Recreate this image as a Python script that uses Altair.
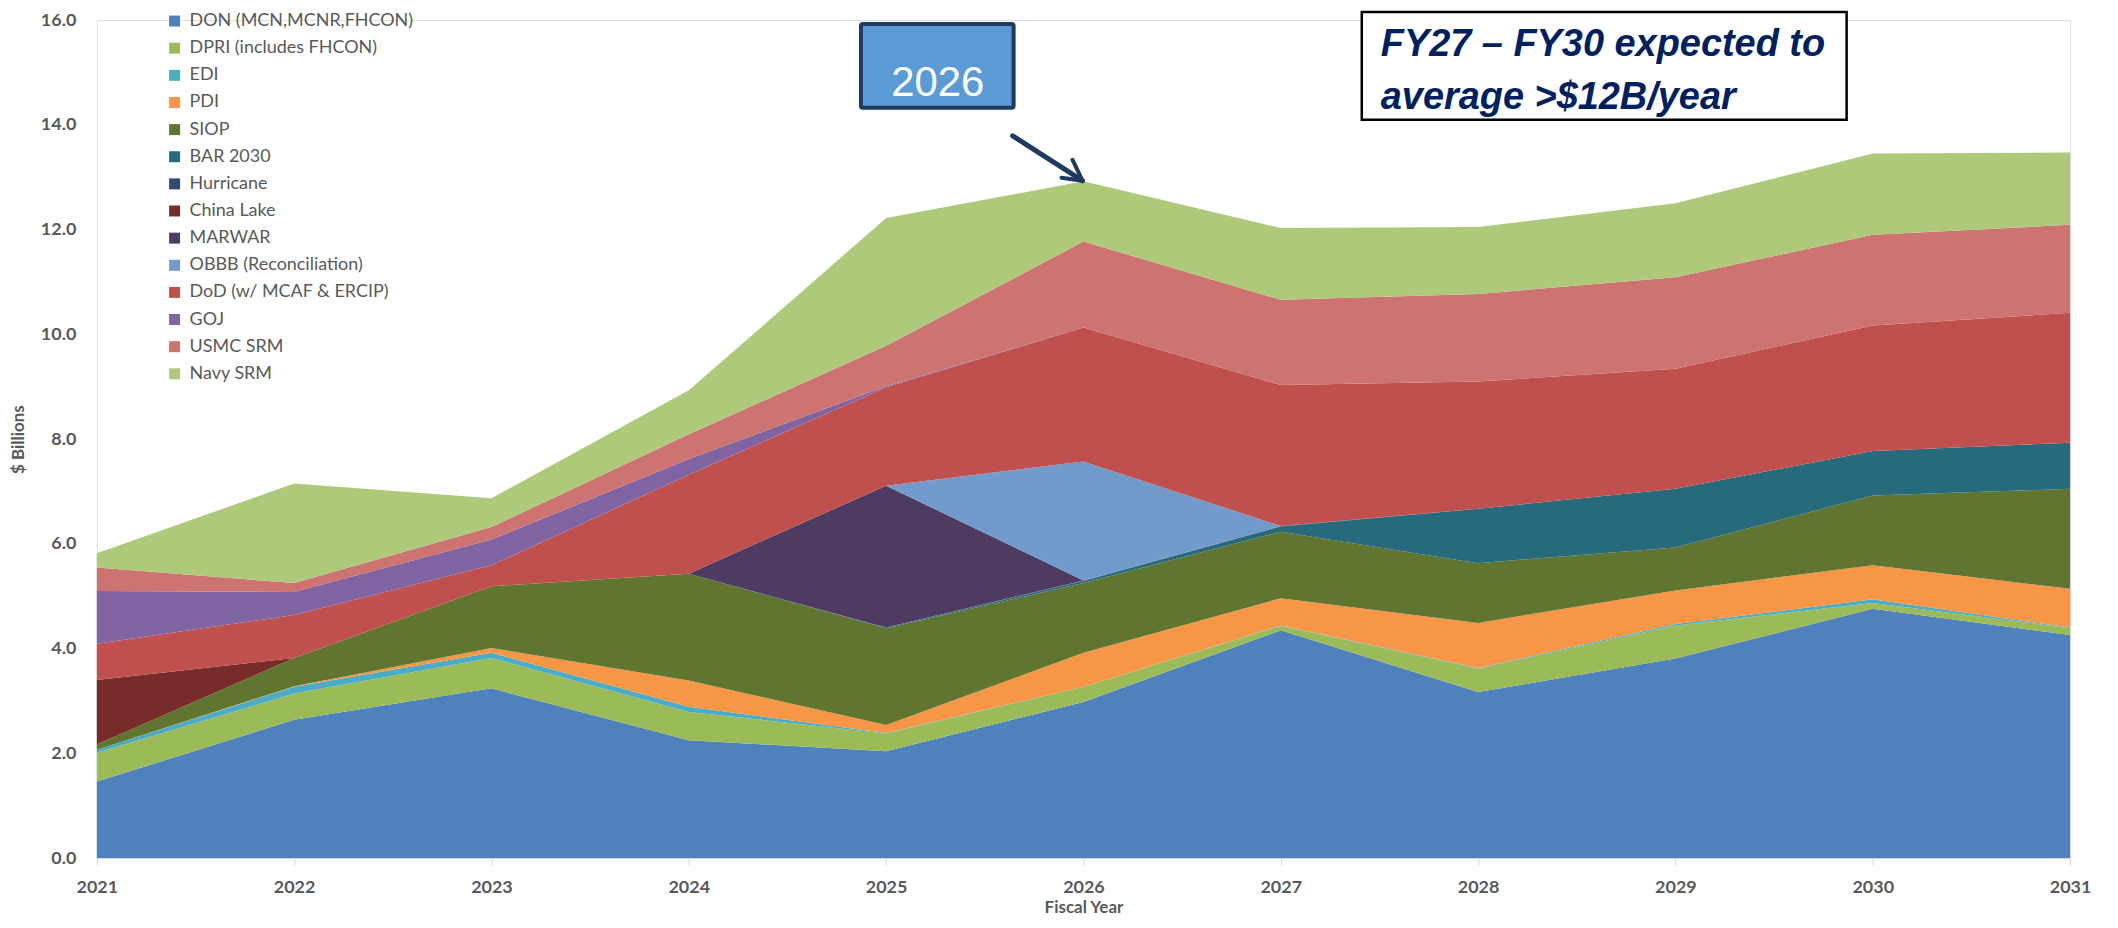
import altair as alt
import pandas as pd

years = list(range(2021, 2032))

series_names = [
    "DON (MCN,MCNR,FHCON)", "DPRI (includes FHCON)", "EDI", "PDI", "SIOP",
    "BAR 2030", "Hurricane", "China Lake", "MARWAR", "OBBB (Reconciliation)",
    "DoD (w/ MCAF & ERCIP)", "GOJ", "USMC SRM", "Navy SRM",
]
series_colors = [
    "#4F81BD", "#9BBB59", "#4BACC6", "#F79646", "#5F7530",
    "#276A7C", "#2C4D75", "#772C2A", "#4D3B62", "#729ACA",
    "#C0504D", "#8064A2", "#CD7371", "#AFC97A",
]

# $ Billions per fiscal year, 2021 .. 2031
don        = [1.46, 2.64, 3.24, 2.25, 2.04, 2.98, 4.35, 3.17, 3.81, 4.76, 4.26]
dpri       = [0.55, 0.50, 0.58, 0.54, 0.34, 0.29, 0.08, 0.45, 0.63, 0.11, 0.13]
edi        = [0.06, 0.13, 0.10, 0.10, 0.01, 0.00, 0.01, 0.01, 0.03, 0.07, 0.01]
pdi        = [0.00, 0.01, 0.09, 0.50, 0.15, 0.65, 0.52, 0.86, 0.64, 0.65, 0.74]
siop       = [0.10, 0.54, 1.18, 2.04, 1.85, 1.33, 1.27, 1.14, 0.82, 1.33, 1.91]
bar2030    = [0.00, 0.00, 0.00, 0.00, 0.01, 0.04, 0.10, 1.04, 1.12, 0.85, 0.88]
hurricane  = [0.00, 0.00, 0.00, 0.00, 0.00, 0.01, 0.01, 0.00, 0.00, 0.00, 0.00]
china_lake = [1.23, 0.00, 0.00, 0.00, 0.00, 0.00, 0.00, 0.00, 0.00, 0.00, 0.00]
marwar     = [0.00, 0.00, 0.00, 0.00, 2.71, 0.00, 0.00, 0.00, 0.00, 0.00, 0.00]
obbb       = [0.00, 0.00, 0.00, 0.00, 0.00, 2.27, 0.00, 0.00, 0.00, 0.00, 0.00]
dod        = [0.69, 0.82, 0.40, 1.89, 1.88, 2.56, 2.69, 2.43, 2.29, 2.40, 2.48]
goj        = [1.01, 0.44, 0.49, 0.30, 0.02, 0.00, 0.00, 0.00, 0.00, 0.00, 0.00]
usmc_srm   = [0.45, 0.17, 0.24, 0.47, 0.77, 1.64, 1.63, 1.67, 1.75, 1.73, 1.68]
navy_srm   = [0.27, 1.90, 0.55, 0.84, 2.44, 1.15, 1.37, 1.28, 1.41, 1.55, 1.38]

all_series = [don, dpri, edi, pdi, siop, bar2030, hurricane, china_lake,
              marwar, obbb, dod, goj, usmc_srm, navy_srm]

y_ticks = [0, 2, 4, 6, 8, 10, 12, 14, 16]

rows = []
for i, (name, vals) in enumerate(zip(series_names, all_series)):
    for yr, v in zip(years, vals):
        rows.append({"year": yr, "series": name, "idx": i, "value": v})
df = pd.DataFrame(rows)

label_font = "Lato"
gray = "#595959"

areas = alt.Chart(df).mark_area(opacity=1, interpolate="linear").encode(
    x=alt.X(
        "year:Q",
        scale=alt.Scale(domain=[2021, 2031], nice=False, zero=False),
        axis=alt.Axis(
            values=years, format="d", grid=False, labelFlush=False,
            domainColor="#D9D9D9", tickColor="#D9D9D9", tickSize=7,
            labelFont=label_font, labelFontWeight="bold", labelFontSize=18,
            labelColor=gray, labelPadding=14,
            titleFont=label_font, titleFontWeight="bold", titleFontSize=17,
            titleColor=gray, titleY=50, titleBaseline="middle",
        ),
        title="Fiscal Year",
    ),
    y=alt.Y(
        "value:Q",
        stack="zero",
        scale=alt.Scale(domain=[0, 16], nice=False),
        axis=alt.Axis(
            values=y_ticks, format=".1f", grid=False, domain=False, ticks=False,
            labelFont=label_font, labelFontWeight="bold", labelFontSize=18,
            labelColor=gray, labelPadding=21,
            titleFont=label_font, titleFontWeight="bold", titleFontSize=17,
            titleColor=gray, titleX=-78, titleY=420, titleAngle=270,
            titleAlign="center", titleBaseline="middle",
        ),
        title="$ Billions",
    ),
    color=alt.Color(
        "series:N",
        scale=alt.Scale(domain=series_names, range=series_colors),
        legend=alt.Legend(
            title=None, orient="none", legendX=69, legendY=-8, padding=0,
            symbolType="square", symbolSize=121, symbolStrokeWidth=0,
            symbolOpacity=1, labelFont=label_font, labelFontSize=18,
            labelColor=gray, labelOffset=6, rowPadding=9.2, labelLimit=400,
        ),
    ),
    order=alt.Order("idx:Q", sort="ascending"),
)

dummy = pd.DataFrame({"k": [0]})
navy_dark = "#1F3A5F"

box_2026 = alt.Chart(dummy).mark_rect(
    fill="#5B9BD5", stroke=navy_dark, strokeWidth=4, cornerRadius=2
).encode(x=alt.value(766), x2=alt.value(919), y=alt.value(4), y2=alt.value(88))

text_2026 = alt.Chart(dummy).mark_text(
    text="2026", font="Liberation Sans", fontSize=42, color="white",
    align="center", baseline="alphabetic"
).encode(x=alt.value(843), y=alt.value(76))

arrow_shaft = alt.Chart(dummy).mark_rule(
    color=navy_dark, strokeWidth=5, strokeCap="round"
).encode(x=alt.value(918), y=alt.value(116), x2=alt.value(988), y2=alt.value(161))
arrow_arm1 = alt.Chart(dummy).mark_rule(
    color=navy_dark, strokeWidth=4, strokeCap="round"
).encode(x=alt.value(967), y=alt.value(158), x2=alt.value(988), y2=alt.value(161))
arrow_arm2 = alt.Chart(dummy).mark_rule(
    color=navy_dark, strokeWidth=4, strokeCap="round"
).encode(x=alt.value(978), y=alt.value(140), x2=alt.value(988), y2=alt.value(161))

fy_box = alt.Chart(dummy).mark_rect(
    fill="white", stroke="black", strokeWidth=2.5
).encode(x=alt.value(1268), x2=alt.value(1754), y=alt.value(-8), y2=alt.value(100))

fy_text1 = alt.Chart(dummy).mark_text(
    text="FY27 \u2013 FY30 expected to", font="Liberation Sans", fontSize=38,
    fontStyle="italic", fontWeight="bold", color="#002060",
    align="left", baseline="alphabetic"
).encode(x=alt.value(1287), y=alt.value(36))
fy_text2 = alt.Chart(dummy).mark_text(
    text="average >$12B/year", font="Liberation Sans", fontSize=38,
    fontStyle="italic", fontWeight="bold", color="#002060",
    align="left", baseline="alphabetic"
).encode(x=alt.value(1287), y=alt.value(89))

chart = alt.layer(
    areas, box_2026, text_2026, arrow_shaft, arrow_arm1, arrow_arm2,
    fy_box, fy_text1, fy_text2,
).properties(
    width=1978, height=840,
    autosize=alt.AutoSizeParams(type="none"),
    padding={"left": 89, "top": 11, "right": 40, "bottom": 59},
).configure_view(strokeWidth=0).configure(background="white")

chart.save("out.html", embed_options={"renderer": "svg", "actions": False})
